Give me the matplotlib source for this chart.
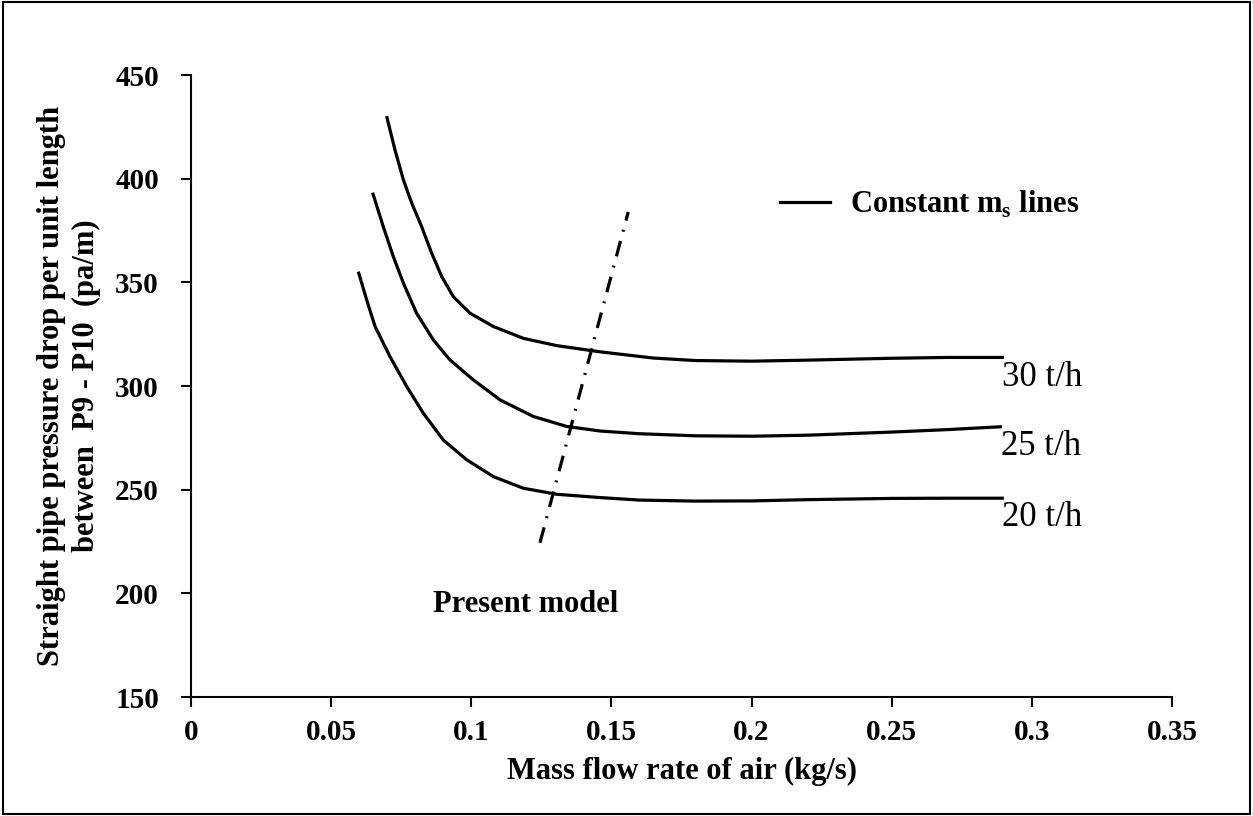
import matplotlib.pyplot as plt
from matplotlib.patches import Rectangle

plt.rcParams['font.family'] = ['Liberation Serif', 'DejaVu Serif']
plt.rcParams['mathtext.fontset'] = 'custom'
plt.rcParams['mathtext.rm'] = 'Liberation Serif'
plt.rcParams['mathtext.bf'] = 'Liberation Serif:bold'

# constant solids-rate lines
x30 = [0.0698, 0.0728, 0.0758, 0.0788, 0.0823, 0.0859, 0.0895, 0.0936, 0.0996, 0.1079,
       0.1186, 0.1305, 0.146, 0.165, 0.180, 0.200, 0.220, 0.250, 0.270, 0.290]
y30 = [430.2, 413.8, 399.4, 388.1, 376.9, 364.0, 352.7, 343.1, 335.1, 328.7,
       323.0, 319.5, 316.5, 313.5, 312.3, 312.0, 312.5, 313.4, 313.8, 313.8]
x25 = [0.0648, 0.0686, 0.0722, 0.0758, 0.0805, 0.0865, 0.0924, 0.1008, 0.1103, 0.1222,
       0.1341, 0.146, 0.160, 0.180, 0.200, 0.220, 0.250, 0.270, 0.2893]
y25 = [393.3, 376.9, 362.4, 349.6, 335.1, 322.2, 312.6, 302.9, 293.3, 285.3,
       280.5, 278.3, 277.0, 276.0, 275.8, 276.3, 277.8, 279.0, 280.4]
x20 = [0.0597, 0.0627, 0.0657, 0.0710, 0.0770, 0.0829, 0.0900, 0.0984, 0.1079, 0.1186,
       0.1305, 0.146, 0.160, 0.180, 0.200, 0.220, 0.250, 0.270, 0.290]
y20 = [355.2, 341.5, 328.7, 314.2, 299.7, 286.9, 274.0, 264.4, 256.3, 250.7,
       247.8, 246.2, 245.0, 244.5, 244.6, 245.2, 245.8, 245.9, 245.9]
labels = ['30 t/h', '25 t/h', '20 t/h']

# present model line
xm = [0.1245, 0.156]
ym = [224.4, 384]

fig = plt.figure(figsize=(12.53, 8.16), dpi=100)
ax = fig.add_axes([0.1524, 0.1458, 0.7830, 0.7622])

for xs, ys, lab in zip([x30, x25, x20], [y30, y25, y20], labels):
    ax.plot(xs, ys, color='black', lw=2.3, solid_capstyle='butt', solid_joinstyle='round')
    ax.text(xs[-1] - 0.0005, ys[-1] - 1.5, lab, fontsize=25, va='top', ha='left')

ax.plot(xm, ym, color='black', lw=2.3, dashes=(5, 3, 0.6, 3))
ax.text(0.1195, 194.5, 'Present model', fontsize=22, fontweight='bold', ha='center', va='center')

# legend-like key
ax.plot([0.2102, 0.228], [388.8, 388.8], color='black', lw=2.3)
ax.text(0.2352, 387.5, r'Constant m$_\mathbf{s}$ lines', fontsize=22, fontweight='bold', va='center')

ax.set_xlim(0, 0.35)
ax.set_ylim(150, 450)
ax.set_xticks([0, 0.05, 0.1, 0.15, 0.2, 0.25, 0.3, 0.35])
ax.set_xticklabels(['0', '0.05', '0.1', '0.15', '0.2', '0.25', '0.3', '0.35'])
ax.set_yticks(range(150, 451, 50))
for s in ['top', 'right']:
    ax.spines[s].set_visible(False)
for s in ['left', 'bottom']:
    ax.spines[s].set_linewidth(1.5)
ax.tick_params(direction='out', length=7, width=1.5, labelsize=21)
ax.tick_params(axis='x', pad=9)
ax.tick_params(axis='y', pad=16)
for t in ax.get_xticklabels() + ax.get_yticklabels():
    t.set_fontweight('bold')

ax.set_xlabel('Mass flow rate of air (kg/s)', fontsize=22, fontweight='bold', labelpad=8)
ax.set_ylabel('Straight pipe pressure drop per unit length\nbetween  P9 - P10  (pa/m)',
              fontsize=22, fontweight='bold', labelpad=10, linespacing=1.3)

fig.patches.append(Rectangle((0.002, 0.002), 0.996, 0.996, transform=fig.transFigure,
                             fill=False, edgecolor='black', lw=1.5))

fig.savefig('out.png', dpi=100)
